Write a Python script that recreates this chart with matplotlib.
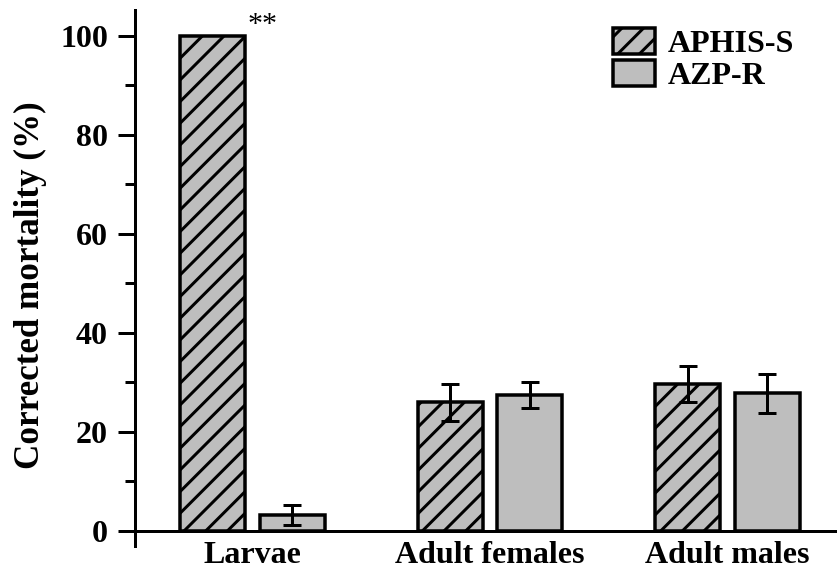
import matplotlib
matplotlib.use("Agg")
import matplotlib.pyplot as plt
import numpy as np
from matplotlib.ticker import MultipleLocator

# data
stages = ["Larvae", "Adult females", "Adult males"]
aphis_s = [100.0, 26.0, 29.7]
aphis_s_err = [0.0, 3.7, 3.6]
azp_r = [3.2, 27.5, 27.8]
azp_r_err = [2.0, 2.6, 4.0]
series_names = ["APHIS-S", "AZP-R"]

DPI = 130
P = 72 / DPI  # pixels -> points

plt.rcParams["font.family"] = ["Liberation Serif", "DejaVu Serif"]
plt.rcParams["hatch.linewidth"] = 3 * P
plt.rcParams["hatch.color"] = "black"

fig = plt.figure(figsize=(837 / DPI, 571 / DPI), dpi=DPI)
ax = fig.add_axes([135 / 837, 25 / 571, 702 / 837, 536 / 571])

x = np.arange(len(stages))
w = 0.274
off = 0.167
gray = "#bebebe"
lw = 3.5 * P

ax.bar(x - off, aphis_s, w, color=gray, edgecolor="black", linewidth=lw,
       hatch="//", label=series_names[0], zorder=2)
ax.bar(x + off, azp_r, w, color=gray, edgecolor="black", linewidth=lw,
       label=series_names[1], zorder=2)

err_x = [x[i] - off for i in range(len(x)) if aphis_s_err[i] > 0]
err_y = [aphis_s[i] for i in range(len(x)) if aphis_s_err[i] > 0]
err_e = [aphis_s_err[i] for i in range(len(x)) if aphis_s_err[i] > 0]
ax.errorbar(err_x, err_y, yerr=err_e, fmt="none", ecolor="black",
            elinewidth=3 * P, capsize=9 * P, capthick=3 * P, zorder=3)
ax.errorbar(x + off, azp_r, yerr=azp_r_err, fmt="none", ecolor="black",
            elinewidth=3 * P, capsize=9 * P, capthick=3 * P, zorder=3)

ax.text(x[0] + 0.04, 99.6, "**", ha="center", va="bottom", fontsize=30 * P)

ax.axhline(0, color="black", linewidth=3 * P, zorder=4)

ax.set_xlim(-0.495, 2.461)
ax.set_ylim(-3.03, 105.25)
ax.set_xticks(x)
ax.set_xticklabels(stages, fontsize=32 * P, fontweight="bold")
ax.set_yticks(np.arange(0, 101, 20))
ax.yaxis.set_minor_locator(MultipleLocator(10))
ax.tick_params(axis="x", length=0, pad=-3)
ax.tick_params(axis="y", which="major", direction="out", length=17 * P,
               width=3 * P, labelsize=32 * P, pad=10 * P)
ax.tick_params(axis="y", which="minor", direction="out", length=10 * P,
               width=3 * P)
for lab in ax.get_yticklabels():
    lab.set_fontweight("bold")

for s in ["top", "right", "bottom"]:
    ax.spines[s].set_visible(False)
ax.spines["left"].set_linewidth(3 * P)

ax.set_ylabel("Corrected mortality (%)", fontsize=35 * P, fontweight="bold")
ax.yaxis.set_label_coords((47 - 135) / 702, (571 - 285 - 25) / 536)

leg = ax.legend(loc="upper left", bbox_to_anchor=(613 / 837, 1 - 28 / 571),
                bbox_transform=fig.transFigure, frameon=False,
                prop={"size": 32 * P, "weight": "bold"},
                handlelength=1.3, handleheight=0.85, handletextpad=0.4,
                labelspacing=0.05, borderpad=0, borderaxespad=0)

fig.savefig("out.png", dpi=DPI)
